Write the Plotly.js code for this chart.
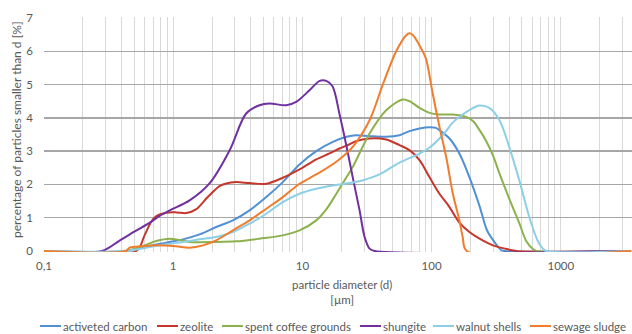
<!DOCTYPE html>
<html>
<head>
<meta charset="utf-8">
<script src="https://cdn.plot.ly/plotly-3.0.1.min.js"></script>
<style>
  html, body { margin: 0; padding: 0; background: #fff; overflow: hidden; }
  #chart { width: 632px; height: 334px; }
</style>
</head>
<body>
<div id="chart"></div>
<script>
// Particle size distributions (percentage of particles smaller than d, [%])
const seriesNames = ['activeted carbon', 'zeolite', 'spent coffee grounds', 'shungite', 'walnut shells', 'sewage sludge'];
const seriesColors = ['#5090d3', '#c5372c', '#8cb14d', '#7030a0', '#8ccfe6', '#f07d2e'];

const carbonD   = [0.1, 0.45, 0.6, 0.88, 1.19, 1.6, 2.15, 2.9, 3.9, 5.25, 7.05, 9.5, 12.8, 17.2, 22, 26, 33, 44.5, 56.4, 67.4, 80.6, 96.3, 108, 115, 137.5, 164, 196, 235, 270, 316, 345, 367, 3500];
const carbonPct = [0, 0, 0.12, 0.25, 0.35, 0.5, 0.72, 0.92, 1.22, 1.62, 2.07, 2.6, 3.0, 3.28, 3.43, 3.48, 3.45, 3.43, 3.48, 3.6, 3.68, 3.72, 3.7, 3.63, 3.38, 2.93, 2.22, 1.35, 0.6, 0.2, 0.03, 0, 0];

const zeoliteD   = [0.1, 0.517, 0.6, 0.676, 0.74, 0.88, 1.06, 1.26, 1.5, 1.85, 2.28, 2.57, 3.07, 3.9, 5.25, 7.05, 9.5, 12.8, 16.2, 19.4, 23, 26, 33, 44.5, 56.4, 67.4, 80.6, 96.3, 115, 137.5, 164, 196, 235, 298, 400, 452, 3500];
const zeolitePct = [0, 0, 0.47, 0.88, 1.05, 1.15, 1.16, 1.14, 1.25, 1.62, 1.95, 2.03, 2.07, 2.04, 2.02, 2.2, 2.45, 2.75, 2.93, 3.08, 3.2, 3.3, 3.38, 3.35, 3.18, 3.03, 2.73, 2.22, 1.72, 1.32, 0.85, 0.57, 0.37, 0.17, 0.04, 0, 0];

const coffeeD   = [0.1, 0.43, 0.6, 0.74, 0.94, 1.12, 1.34, 2.15, 3.07, 4.66, 7.05, 9.5, 12.8, 15.3, 18.3, 21.8, 24.5, 33.1, 44.5, 59.8, 67.4, 80.6, 96.3, 115, 145, 185, 210, 235, 265, 300, 335, 401, 479, 540, 607, 650, 3500];
const coffeePct = [0, 0, 0.17, 0.3, 0.37, 0.33, 0.27, 0.27, 0.29, 0.37, 0.47, 0.62, 0.92, 1.25, 1.72, 2.2, 2.52, 3.53, 4.23, 4.55, 4.5, 4.3, 4.15, 4.1, 4.1, 4.03, 3.9, 3.63, 3.3, 2.85, 2.33, 1.55, 0.82, 0.3, 0.06, 0, 0];

const shungiteD   = [0.1, 0.28, 0.38, 0.5, 0.66, 0.78, 0.94, 1.34, 1.91, 2.73, 3.67, 4.66, 5.56, 7.49, 8.95, 11.35, 13.6, 15.3, 17.1, 19.4, 21.8, 24.5, 27.7, 30.3, 33.1, 36.2, 3500];
const shungitePct = [0, 0, 0.3, 0.58, 0.85, 1.05, 1.22, 1.52, 2.03, 3.02, 4.13, 4.38, 4.43, 4.38, 4.48, 4.83, 5.11, 5.11, 4.95, 4.1, 3.2, 2.22, 1.22, 0.42, 0.07, 0, 0];

const walnutD   = [0.1, 0.43, 0.66, 0.88, 1.19, 1.6, 2.15, 2.9, 3.9, 5.25, 7.05, 9.5, 12.8, 17.2, 23, 29, 39.5, 56, 80, 96, 125, 145, 174, 210, 235, 280, 335, 401, 479, 572, 664, 726, 771, 3500];
const walnutPct = [0, 0, 0.12, 0.2, 0.27, 0.35, 0.42, 0.57, 0.82, 1.12, 1.47, 1.72, 1.87, 1.97, 2.04, 2.12, 2.3, 2.65, 2.92, 3.1, 3.53, 3.85, 4.1, 4.3, 4.37, 4.3, 3.93, 3.1, 2.1, 1.0, 0.3, 0.07, 0, 0];

const sludgeD   = [0.1, 0.43, 0.46, 0.58, 0.74, 1.05, 1.34, 1.7, 2.15, 2.9, 3.9, 5.25, 7.05, 9.5, 12.8, 18.3, 24.5, 33.1, 41.9, 53.2, 63.6, 67.4, 71.5, 80, 90, 102, 115, 130, 146, 164, 174, 187, 3500];
const sludgePct = [0, 0, 0.1, 0.14, 0.17, 0.14, 0.1, 0.17, 0.32, 0.62, 0.92, 1.27, 1.62, 2.02, 2.3, 2.68, 3.13, 3.93, 5.0, 6.0, 6.48, 6.54, 6.49, 6.2, 5.8, 4.73, 3.73, 2.8, 1.72, 0.92, 0.42, 0, 0];

// Axis labelling
const decadeTicks  = [0.1, 1, 10, 100, 1000];
const decadeLabels = ['0,1', '1', '10', '100', '1000'];
const yTicks = [0, 1, 2, 3, 4, 5, 6, 7];
const xTitle = 'particle diameter (d)<br>[µm]';
const yTitle = 'percentage of particles smaller than d [%]';

const xs = [carbonD, zeoliteD, coffeeD, shungiteD, walnutD, sludgeD];
const ys = [carbonPct, zeolitePct, coffeePct, shungitePct, walnutPct, sludgePct];

const traces = seriesNames.map((name, i) => ({
  type: 'scatter',
  mode: 'lines',
  name: name,
  x: xs[i],
  y: ys[i],
  line: { color: seriesColors[i], width: 2, shape: 'spline', smoothing: 0.9 },
  hoverinfo: 'x+y+name'
}));

// Vertical grid at every 1..9 multiple of each decade; labels on the decades only
const gridVals = [];
const gridText = [];
decadeTicks.forEach((dec, k) => {
  for (let m = 1; m <= 9; m++) {
    gridVals.push(dec * m);
    gridText.push(m === 1 ? decadeLabels[k] : '');
  }
});

// Figure geometry (pixels)
const W = 632, H = 334;
const M = { l: 44, r: 0, t: 17, b: 82 };
const plotW = W - M.l - M.r, plotH = H - M.t - M.b;
const px2x = px => (px - M.l) / plotW;
const px2y = py => (H - M.b - py) / plotH;

const font = { family: 'Lato, "Open Sans", sans-serif', size: 11.5, color: '#595959' };

// Legend row underneath the chart: short line sample followed by the name
const legendStarts = [40, 157, 222, 360, 433, 530];
const legendY = 326;
const legendShapes = seriesNames.map((name, i) => ({
  type: 'line', xref: 'paper', yref: 'paper',
  x0: px2x(legendStarts[i]), x1: px2x(legendStarts[i] + 21),
  y0: px2y(legendY), y1: px2y(legendY),
  line: { color: seriesColors[i], width: 2 }
}));
const legendLabels = seriesNames.map((name, i) => ({
  xref: 'paper', yref: 'paper',
  x: px2x(legendStarts[i] + 21), y: px2y(legendY),
  xanchor: 'left', yanchor: 'middle',
  text: name, showarrow: false, font: font
}));

const titleAnnotations = [
  {
    xref: 'paper', yref: 'paper', x: px2x(342), y: px2y(292),
    xanchor: 'center', yanchor: 'middle', text: xTitle, showarrow: false, font: font
  },
  {
    xref: 'paper', yref: 'paper', x: px2x(16), y: px2y(130),
    xanchor: 'center', yanchor: 'middle', textangle: -90,
    text: yTitle, showarrow: false, font: Object.assign({}, font, { size: 12 })
  }
];

const layout = {
  width: W,
  height: H,
  margin: M,
  paper_bgcolor: '#ffffff',
  plot_bgcolor: '#ffffff',
  font: font,
  showlegend: false,
  xaxis: {
    type: 'log',
    range: [-1, 3.551],
    tickmode: 'array',
    tickvals: gridVals,
    ticktext: gridText,
    showgrid: true,
    gridcolor: '#d9d9d9',
    gridwidth: 1,
    zeroline: false,
    showline: false,
    ticks: '',
    ticklabelstandoff: 5,
    tickfont: font,
    automargin: false
  },
  yaxis: {
    range: [-0.03, 7.03],
    tickmode: 'array',
    tickvals: yTicks,
    ticktext: yTicks.map(String),
    showgrid: true,
    gridcolor: '#a6a6a6',
    gridwidth: 1.3,
    zeroline: false,
    showline: false,
    ticks: '',
    ticklabelstandoff: 10,
    tickfont: font,
    automargin: false
  },
  shapes: legendShapes,
  annotations: titleAnnotations.concat(legendLabels)
};

Plotly.newPlot('chart', traces, layout, { displayModeBar: false, staticPlot: true });
</script>
</body>
</html>
